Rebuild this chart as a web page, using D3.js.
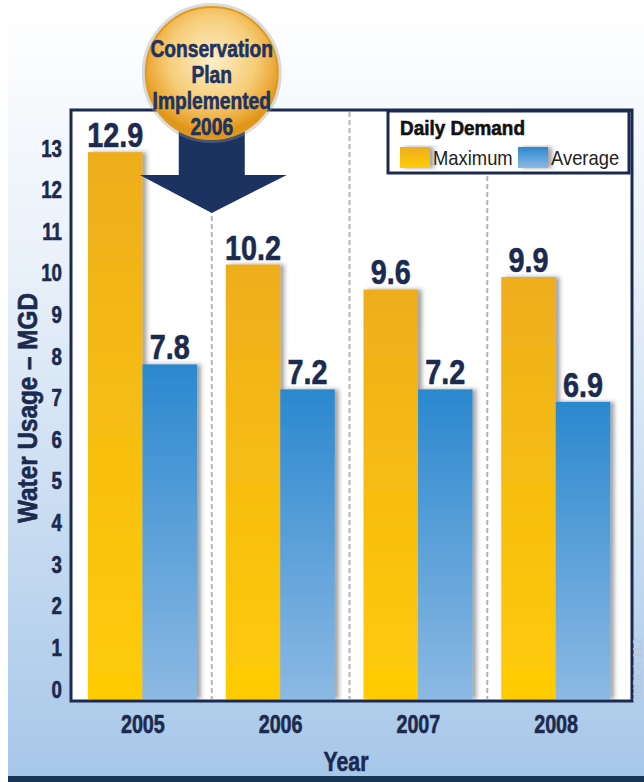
<!DOCTYPE html>
<meta charset="utf-8" />
<html>
<style>
  body { margin: 0; background: #fff; }
  svg { display: block; }
  .lbl { font-family: "Liberation Sans", Arial, sans-serif; font-weight: bold; fill: #1b2a4e; stroke: #1b2a4e; stroke-width: 0.6px; }
</style>
<body>
<svg width="644" height="782"></svg>
<script src="https://d3js.org/d3.v7.min.js"></script>
<script>
  // chart values
  var years = ["2005", "2006", "2007", "2008"];
  var maximum = [12.9, 10.2, 9.6, 9.9];
  var average = [7.8, 7.2, 7.2, 6.9];
  var series = ["Maximum", "Average"];
  var yTicks = [0, 1, 2, 3, 4, 5, 6, 7, 8, 9, 10, 11, 12, 13];
  var calloutLines = ["Conservation", "Plan", "Implemented", "2006"];

  var svg = d3.select("svg");
  var navy = "#1b2a4e";
  var narrow = 0.8; // horizontal squeeze to mimic a condensed face
  var defs = svg.append("defs");

  // places text at x,y squeezed horizontally
  function at(x, y, sx) {
    return "translate(" + x + "," + y + ") scale(" + (sx || narrow) + ",1)";
  }

  // background gradient
  var bg = defs.append("linearGradient").attr("id", "bg").attr("x1", 0).attr("y1", 0).attr("x2", 0).attr("y2", 1);
  bg.append("stop").attr("offset", "0%").attr("stop-color", "#ffffff");
  bg.append("stop").attr("offset", "35%").attr("stop-color", "#e8f0f9");
  bg.append("stop").attr("offset", "100%").attr("stop-color", "#a7c7e9");

  var gMax = defs.append("linearGradient").attr("id", "gMax").attr("x1", 0).attr("y1", 0).attr("x2", 0).attr("y2", 1);
  gMax.append("stop").attr("offset", "0%").attr("stop-color", "#eeae1e");
  gMax.append("stop").attr("offset", "100%").attr("stop-color", "#ffcc05");
  var gAvg = defs.append("linearGradient").attr("id", "gAvg").attr("x1", 0).attr("y1", 0).attr("x2", 0).attr("y2", 1);
  gAvg.append("stop").attr("offset", "0%").attr("stop-color", "#2b88cf");
  gAvg.append("stop").attr("offset", "100%").attr("stop-color", "#8cb9e3");

  var ball = defs.append("radialGradient").attr("id", "ball").attr("cx", "50%").attr("cy", "40%").attr("r", "55%");
  ball.append("stop").attr("offset", "0%").attr("stop-color", "#fdeec8");
  ball.append("stop").attr("offset", "60%").attr("stop-color", "#f6cd78");
  ball.append("stop").attr("offset", "90%").attr("stop-color", "#eba634");
  ball.append("stop").attr("offset", "100%").attr("stop-color", "#e0961a");

  var shadow = defs.append("filter").attr("id", "shadow").attr("x", "-20%").attr("y", "-5%").attr("width", "150%").attr("height", "110%");
  shadow.append("feDropShadow").attr("dx", 4).attr("dy", 0).attr("stdDeviation", 2).attr("flood-color", "#333").attr("flood-opacity", 0.45);

  svg.append("rect").attr("x", 8).attr("y", 5).attr("width", 636).attr("height", 771).attr("fill", "url(#bg)");
  svg.append("rect").attr("x", 8).attr("y", 776).attr("width", 636).attr("height", 6).attr("fill", "#173554");

  // plot frame
  var frame = { left: 71, top: 110, right: 632, bottom: 701 };
  svg.append("rect")
    .attr("x", frame.left).attr("y", frame.top)
    .attr("width", frame.right - frame.left).attr("height", frame.bottom - frame.top)
    .attr("fill", "#fff");

  var x0 = d3.scaleBand().domain(years).range([74, 625]);
  var x1 = d3.scaleBand().domain(series).range([14, 123]);
  var y = d3.scaleLinear().domain([0, 13]).range([689, 148]);
  var barBottom = 699;

  // dashed separators between years
  svg.append("g").selectAll("line")
    .data(years.slice(1))
    .enter().append("line")
    .attr("x1", function (d) { return x0(d); })
    .attr("x2", function (d) { return x0(d); })
    .attr("y1", frame.top + 2).attr("y2", barBottom)
    .attr("stroke", "#b4b4b4").attr("stroke-width", 2).attr("stroke-dasharray", "5,3");

  var rows = years.map(function (yr, i) {
    return [{ year: yr, key: "Maximum", v: maximum[i] }, { year: yr, key: "Average", v: average[i] }];
  });

  var groups = svg.append("g").selectAll("g")
    .data(rows).enter().append("g")
    .attr("transform", function (d) { return "translate(" + x0(d[0].year) + ",0)"; });

  groups.selectAll("rect")
    .data(function (d) { return d; })
    .enter().append("rect")
    .attr("x", function (d) { return x1(d.key); })
    .attr("y", function (d) { return y(d.v); })
    .attr("width", x1.bandwidth())
    .attr("height", function (d) { return barBottom - y(d.v); })
    .attr("fill", function (d) { return d.key == "Maximum" ? "url(#gMax)" : "url(#gAvg)"; })
    .attr("filter", "url(#shadow)");

  groups.selectAll("text")
    .data(function (d) { return d; })
    .enter().append("text")
    .attr("class", "lbl")
    .attr("transform", function (d) { return at(x1(d.key) + x1.bandwidth() / 2, y(d.v) - 5, 0.8); })
    .attr("text-anchor", "middle")
    .attr("font-size", 36)
    .text(function (d) { return d.v.toFixed(1); });

  // frame border on top of bars
  svg.append("rect")
    .attr("x", frame.left).attr("y", frame.top)
    .attr("width", frame.right - frame.left).attr("height", frame.bottom - frame.top)
    .attr("fill", "none").attr("stroke", navy).attr("stroke-width", 3);

  // y axis labels
  svg.append("g").selectAll("text")
    .data(yTicks).enter().append("text")
    .attr("class", "lbl")
    .attr("transform", function (d) { return at(62, y(d) + 8.5, 0.78); })
    .attr("text-anchor", "end")
    .attr("font-size", 24)
    .text(function (d) { return d; });

  svg.append("text")
    .attr("class", "lbl")
    .attr("transform", "translate(37,408) rotate(-90) scale(0.9,1)")
    .attr("text-anchor", "middle")
    .attr("font-size", 27)
    .text("Water Usage – MGD");

  // x axis labels
  svg.append("g").selectAll("text")
    .data(years).enter().append("text")
    .attr("class", "lbl")
    .attr("transform", function (d) { return at(x0(d) + x0.bandwidth() / 2, 733, 0.76); })
    .attr("text-anchor", "middle")
    .attr("font-size", 26)
    .text(function (d) { return d; });

  svg.append("text")
    .attr("class", "lbl")
    .attr("transform", at(346, 771, 0.76))
    .attr("text-anchor", "middle")
    .attr("font-size", 28)
    .text("Year");

  // legend
  var lg = svg.append("g");
  lg.append("rect").attr("x", 388).attr("y", 111).attr("width", 241).attr("height", 62)
    .attr("fill", "#fff").attr("stroke", navy).attr("stroke-width", 3);
  lg.append("text").attr("class", "lbl").attr("transform", at(400, 135, 0.9))
    .attr("font-size", 21).style("fill", "#111").style("stroke", "#111").text("Daily Demand");
  var swX = [400, 518];
  var legendFill = ["url(#gMax)", "url(#gAvg)"];
  lg.selectAll("rect.sw").data(series).enter().append("rect")
    .attr("class", "sw")
    .attr("x", function (d, i) { return swX[i]; }).attr("y", 147)
    .attr("width", 30).attr("height", 21)
    .attr("fill", function (d, i) { return legendFill[i]; })
    .attr("filter", "url(#shadow)");
  lg.selectAll("text.it").data(series).enter().append("text")
    .attr("class", "it")
    .attr("transform", function (d, i) { return at(swX[i] + 33, 165, 0.92); })
    .attr("font-family", "'Liberation Sans', Arial, sans-serif")
    .attr("font-size", 20).attr("fill", "#222")
    .text(function (d) { return d; });

  // arrow from callout to 2006
  var cx = x0("2006"), tipY = 213;
  svg.append("path")
    .attr("d", "M" + (cx - 33) + ",120 L" + (cx + 33) + ",120 L" + (cx + 33) + ",175 L" + (cx + 75) + ",175 L" + cx + "," + tipY +
      " L" + (cx - 72) + ",175 L" + (cx - 33) + ",175 Z")
    .attr("fill", "#1c3260");

  // callout ball
  svg.append("circle").attr("cx", cx).attr("cy", 73).attr("r", 68)
    .attr("fill", "none").attr("stroke", "#999").attr("stroke-opacity", 0.35).attr("stroke-width", 4);
  svg.append("circle").attr("cx", cx).attr("cy", 73).attr("r", 66)
    .attr("fill", "url(#ball)").attr("stroke", "#e39a1c").attr("stroke-width", 2);
  svg.append("g").selectAll("text")
    .data(calloutLines).enter().append("text")
    .attr("class", "lbl")
    .attr("transform", function (d, i) { return at(cx, 57 + i * 26, 0.8); })
    .attr("text-anchor", "middle")
    .attr("font-size", 24)
    .style("fill", "#1e3566")
    .text(function (d) { return d; });

  // watermark
  svg.append("text")
    .attr("transform", "translate(642,700) rotate(-90)")
    .attr("font-family", "'Liberation Sans', sans-serif")
    .attr("font-size", 13).attr("fill", "#bcc5cf")
    .text("WGLA 112");
</script>
</body>
</html>
